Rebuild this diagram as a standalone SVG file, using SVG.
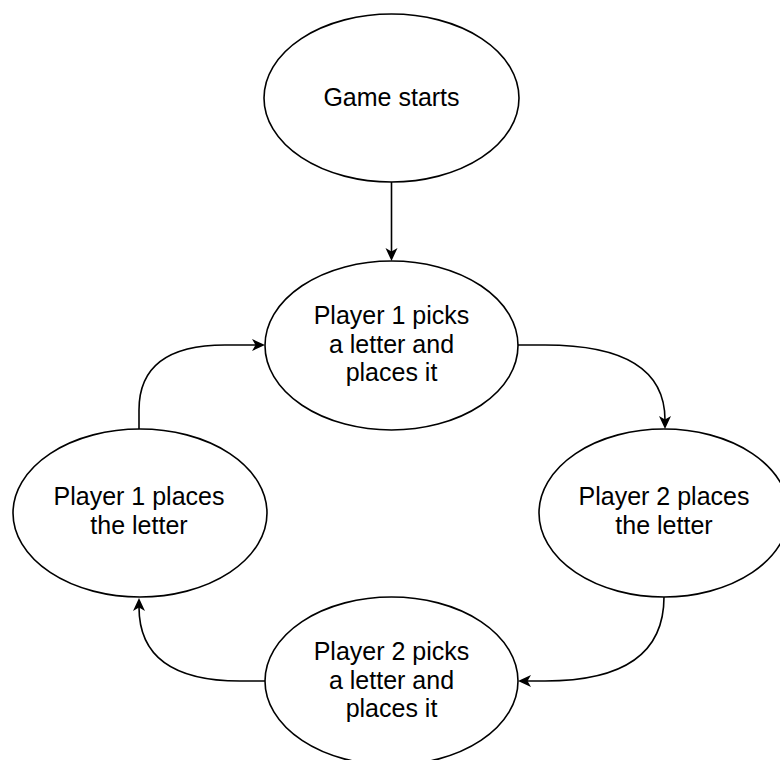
<svg xmlns="http://www.w3.org/2000/svg" width="780" height="760" viewBox="0 0 780 760">
  <style>
    .node ellipse { fill: #ffffff; stroke: #000000; stroke-width: 1.6; }
    .node text { font-family: "Liberation Sans", Arial, Helvetica, sans-serif; font-size: 25px; fill: #000000; text-anchor: middle; }
    .edge { fill: none; stroke: #000000; stroke-width: 1.6; }
    .head { fill: #000000; stroke: none; }
  </style>
  <defs>
    <!-- arrowhead pointing right, tip at (0,0) -->
    <path id="ah" d="M0,0 L-13,-6 L-9.5,0 L-13,6 Z"/>
  </defs>
  <rect x="0" y="0" width="780" height="760" fill="#ffffff"/>

  <g id="connectors">
    <path class="edge" d="M391.5,182 L391.5,252"/>
    <use href="#ah" class="head" transform="translate(391.5,261) rotate(90)"/>

    <path class="edge" d="M518,345 L545,345 Q665,345 665,420"/>
    <use href="#ah" class="head" transform="translate(665,429) rotate(90)"/>

    <path class="edge" d="M664,597 Q664,681 545,681 L527,681"/>
    <use href="#ah" class="head" transform="translate(518,681) rotate(180)"/>

    <path class="edge" d="M265,681 L240,681 Q139,681 139,607"/>
    <use href="#ah" class="head" transform="translate(139,598) rotate(-90)"/>

    <path class="edge" d="M139,429 L139,410 Q139,345 225,345 L256,345"/>
    <use href="#ah" class="head" transform="translate(265,345)"/>
  </g>

  <g id="game-starts" class="node">
    <ellipse cx="391.5" cy="98" rx="127.5" ry="84"/>
    <text x="391.5" y="106">Game starts</text>
  </g>

  <g id="p1-picks" class="node">
    <ellipse cx="391.5" cy="345.5" rx="126.5" ry="84.5"/>
    <text x="391.5" y="324">Player 1 picks</text>
    <text x="391.5" y="352.7">a letter and</text>
    <text x="391.5" y="381">places it</text>
  </g>

  <g id="p2-places" class="node">
    <ellipse cx="664" cy="513" rx="125" ry="84"/>
    <text x="664" y="505">Player 2 places</text>
    <text x="664" y="534">the letter</text>
  </g>

  <g id="p1-places" class="node">
    <ellipse cx="140" cy="513" rx="127" ry="84"/>
    <text x="139" y="505">Player 1 places</text>
    <text x="139" y="534">the letter</text>
  </g>

  <g id="p2-picks" class="node">
    <ellipse cx="391.5" cy="681" rx="126.5" ry="84"/>
    <text x="391.5" y="660">Player 2 picks</text>
    <text x="391.5" y="688.7">a letter and</text>
    <text x="391.5" y="717">places it</text>
  </g>
</svg>
